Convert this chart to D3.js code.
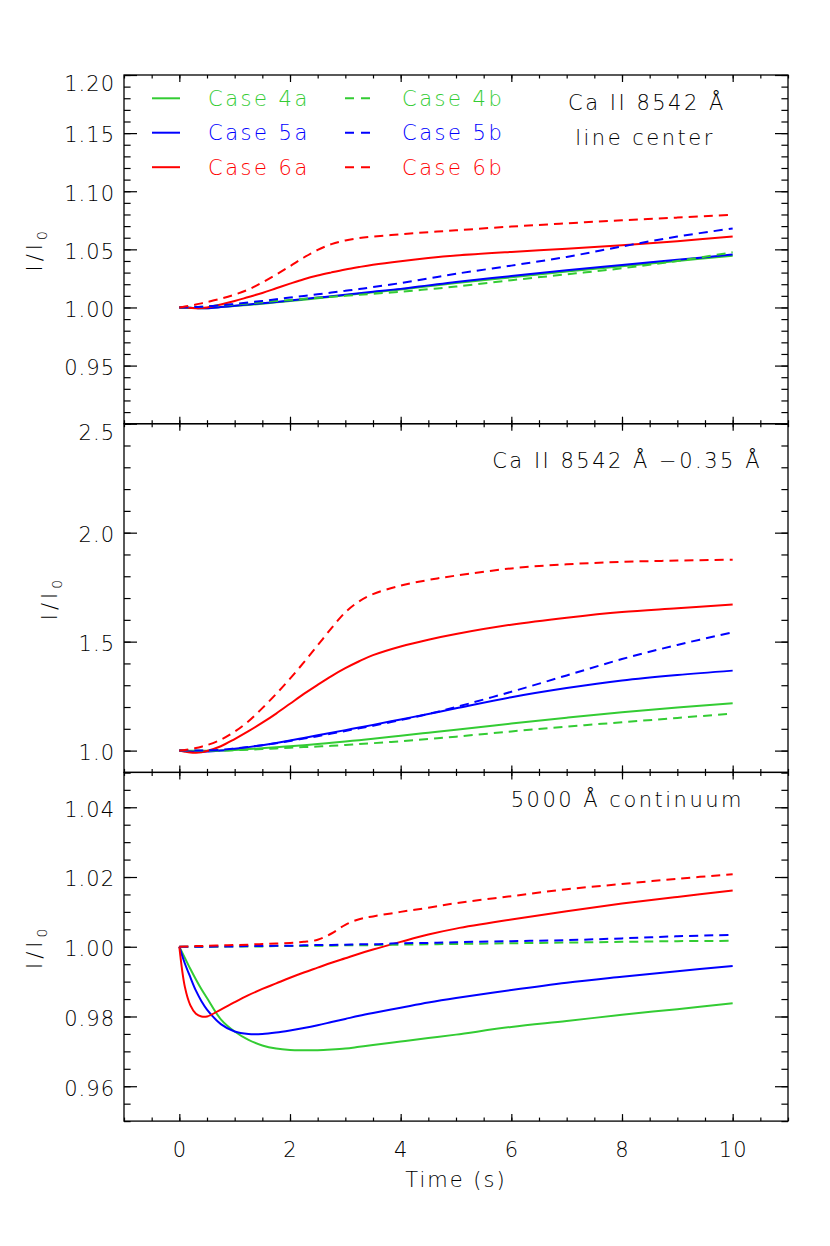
<!DOCTYPE html>
<html>
<head>
<meta charset="utf-8">
<script src="https://cdn.jsdelivr.net/npm/d3@7"></script>
<style>
  body { margin: 0; background: #fff; }
  svg text { font-family: "DejaVu Sans", sans-serif; font-weight: 300; fill: #000; }
</style>
</head>
<body>
<div class="canvas"></div>
<script>
// sample times (s), shared by every curve
const times = [0, 0.1, 0.2, 0.3, 0.4, 0.5, 0.75, 1, 1.25, 1.5, 1.75, 2, 2.25, 2.5, 2.75, 3, 3.25, 3.5, 4, 4.5, 5, 6, 7, 8, 9, 10];

// Ca II 8542 line center
const core4a = [1.0, 0.9999, 0.9997, 0.9995, 0.9994, 0.9994, 1.0004, 1.0012, 1.0022, 1.0032, 1.0044, 1.0055, 1.0067, 1.008, 1.0092, 1.0105, 1.0117, 1.013, 1.0155, 1.0182, 1.021, 1.026, 1.031, 1.0355, 1.040, 1.0445];
const core5a = [1.0, 0.9999, 0.9997, 0.9995, 0.9993, 0.9993, 1.0003, 1.0015, 1.0025, 1.0036, 1.0048, 1.006, 1.0072, 1.0085, 1.0097, 1.011, 1.0122, 1.0135, 1.016, 1.019, 1.022, 1.027, 1.032, 1.0365, 1.041, 1.0455];
const core6a = [1.0, 0.9998, 0.9995, 0.9993, 0.9995, 1.0, 1.0025, 1.0055, 1.009, 1.0125, 1.0165, 1.0205, 1.0243, 1.0275, 1.0302, 1.0327, 1.0348, 1.0367, 1.0398, 1.0425, 1.0447, 1.0478, 1.0505, 1.0535, 1.057, 1.061];
const core4b = [1.0, 1.0, 1.0002, 1.0004, 1.0006, 1.0009, 1.0017, 1.0025, 1.0035, 1.0045, 1.0055, 1.0065, 1.0074, 1.0083, 1.0092, 1.010, 1.0109, 1.0118, 1.0135, 1.0157, 1.018, 1.0235, 1.0285, 1.0337, 1.040, 1.0475];
const core5b = [1.0, 1.0, 1.0002, 1.0004, 1.0006, 1.0009, 1.0018, 1.003, 1.0043, 1.0056, 1.007, 1.0085, 1.0099, 1.0113, 1.0128, 1.0143, 1.0158, 1.0175, 1.021, 1.025, 1.029, 1.036, 1.0435, 1.0525, 1.061, 1.068];
const core6b = [1.0, 1.0008, 1.0016, 1.0025, 1.0035, 1.0046, 1.0075, 1.011, 1.0155, 1.0215, 1.0283, 1.0355, 1.043, 1.0495, 1.0545, 1.0577, 1.0597, 1.061, 1.063, 1.0648, 1.0664, 1.0696, 1.0724, 1.075, 1.0773, 1.0797];

// Ca II 8542 -0.35 A
const wing4a = [1.0, 0.9995, 0.999, 0.9988, 0.9988, 0.999, 1.0, 1.003, 1.007, 1.011, 1.015, 1.02, 1.025, 1.03, 1.036, 1.042, 1.048, 1.054, 1.068, 1.082, 1.096, 1.124, 1.151, 1.176, 1.198, 1.217];
const wing5a = [1.0, 0.998, 0.996, 0.995, 0.995, 0.996, 1.0, 1.008, 1.016, 1.025, 1.035, 1.046, 1.058, 1.07, 1.082, 1.094, 1.106, 1.118, 1.143, 1.168, 1.194, 1.245, 1.287, 1.322, 1.347, 1.367];
const wing6a = [1.0, 0.995, 0.991, 0.99, 0.992, 0.998, 1.02, 1.053, 1.089, 1.128, 1.17, 1.215, 1.26, 1.302, 1.342, 1.378, 1.41, 1.438, 1.478, 1.509, 1.535, 1.578, 1.61, 1.636, 1.653, 1.67];
const wing4b = [1.0, 1.0, 0.9995, 0.999, 0.999, 0.999, 1.0, 1.002, 1.004, 1.007, 1.01, 1.013, 1.016, 1.019, 1.022, 1.026, 1.03, 1.034, 1.043, 1.053, 1.064, 1.088, 1.11, 1.13, 1.15, 1.17];
const wing5b = [1.0, 1.0, 1.0, 1.0, 1.0, 1.001, 1.004, 1.01, 1.017, 1.025, 1.034, 1.044, 1.055, 1.066, 1.078, 1.09, 1.102, 1.114, 1.14, 1.168, 1.2, 1.27, 1.345, 1.42, 1.485, 1.543];
const wing6b = [1.0, 1.003, 1.007, 1.012, 1.018, 1.025, 1.05, 1.087, 1.135, 1.195, 1.26, 1.33, 1.405, 1.483, 1.562, 1.635, 1.685, 1.718, 1.757, 1.783, 1.803, 1.836, 1.855, 1.866, 1.872, 1.876];

// 5000 A continuum
const cont4a = [1.0, 0.9968, 0.9936, 0.9906, 0.9878, 0.9853, 0.9792, 0.9757, 0.9733, 0.9717, 0.9708, 0.9704, 0.9703, 0.9703, 0.9705, 0.9708, 0.9713, 0.9718, 0.9728, 0.9738, 0.9748, 0.977, 0.9787, 0.9805, 0.9821, 0.9838];
const cont5a = [1.0, 0.9952, 0.9912, 0.9874, 0.9844, 0.982, 0.9778, 0.9757, 0.975, 0.975, 0.9754, 0.976, 0.9767, 0.9775, 0.9784, 0.9793, 0.9802, 0.981, 0.9825, 0.984, 0.9853, 0.9876, 0.9897, 0.9914, 0.993, 0.9945];
const cont6a = [1.0, 0.9885, 0.9832, 0.9808, 0.98, 0.98, 0.982, 0.9841, 0.9861, 0.9879, 0.9895, 0.9911, 0.9926, 0.994, 0.9954, 0.9967, 0.998, 0.9992, 1.0014, 1.0035, 1.0052, 1.0078, 1.0102, 1.0124, 1.0143, 1.0161];
const cont4b = [1.0, 1.0, 1.0, 1.0, 1.0, 1.0, 1.0, 1.0001, 1.0001, 1.0001, 1.0002, 1.0002, 1.0002, 1.0003, 1.0003, 1.0004, 1.0004, 1.0005, 1.0006, 1.0007, 1.0008, 1.001, 1.0012, 1.0014, 1.0016, 1.0017];
const cont5b = [1.0, 1.0, 1.0, 1.0, 1.0, 1.0, 1.0001, 1.0001, 1.0002, 1.0002, 1.0003, 1.0003, 1.0004, 1.0005, 1.0005, 1.0006, 1.0007, 1.0007, 1.001, 1.0011, 1.0013, 1.0016, 1.0019, 1.0024, 1.003, 1.0034];
const cont6b = [1.0, 1.0001, 1.0001, 1.0002, 1.0002, 1.0003, 1.0004, 1.0005, 1.0006, 1.0008, 1.0009, 1.0011, 1.0014, 1.002, 1.0038, 1.0063, 1.0079, 1.0087, 1.01, 1.0112, 1.0125, 1.0145, 1.0165, 1.018, 1.0195, 1.0208];

// legend / case names
const caseNames = ["Case 4a", "Case 5a", "Case 6a", "Case 4b", "Case 5b", "Case 6b"];
const caseColors = ["#33cc33", "#0000ff", "#ff0000", "#33cc33", "#0000ff", "#ff0000"];
const caseDashed = [false, false, false, true, true, true];

// tick labels
const xTicks = [0, 2, 4, 6, 8, 10];
const coreTicks = [0.95, 1.00, 1.05, 1.10, 1.15, 1.20];
const wingTicks = [1.0, 1.5, 2.0, 2.5];
const contTicks = [0.96, 0.98, 1.00, 1.02, 1.04];

// margins and dimensions
const w = 830;
const h = 1246;
const plotLeft = 124;
const plotRight = 788;
const plotTop = 75;
const panelH = 348.7;

const panels = [
  { domain: [0.90, 1.20], major: coreTicks, minorStep: 0.01, fmt: ".2f", series: [core4a, core5a, core6a, core4b, core5b, core6b], labelX: 42 },
  { domain: [0.9, 2.5], major: wingTicks, minorStep: 0.1, fmt: ".1f", series: [wing4a, wing5a, wing6a, wing4b, wing5b, wing6b], labelX: 57 },
  { domain: [0.95, 1.05], major: contTicks, minorStep: 0.005, fmt: ".2f", series: [cont4a, cont5a, cont6a, cont4b, cont5b, cont6b], labelX: 42 }
];

const svg = d3.select(".canvas").append("svg").attr("width", w).attr("height", h);

const xScale = d3.scaleLinear().domain([-1, 11]).range([plotLeft, plotRight]);
const xMinor = d3.range(-1, 11.01, 0.5);

const noDomain = s => s.select(".domain").remove();

panels.forEach((p, i) => {
  const top = plotTop + i * panelH;
  const bottom = top + panelH;
  const yScale = d3.scaleLinear().domain(p.domain).range([bottom, top]);
  const yMinor = d3.range(p.domain[0], p.domain[1] + p.minorStep / 2, p.minorStep);
  const g = svg.append("g");

  // curves: solids first, dashed over them
  const line = d3.line()
    .x(d => xScale(d[0]))
    .y(d => yScale(d[1]))
    .curve(d3.curveCatmullRom.alpha(0.5));
  p.series.forEach((vals, k) => {
    g.append("path")
      .attr("d", line(d3.zip(times, vals)))
      .attr("fill", "none")
      .attr("stroke", caseColors[k])
      .attr("stroke-width", 2)
      .attr("stroke-dasharray", caseDashed[k] ? "9,6" : null);
  });

  // y ticks, inward on both sides
  g.append("g").attr("transform", `translate(${plotLeft},0)`)
    .call(d3.axisLeft(yScale).tickValues(yMinor).tickSize(-6.6).tickFormat("")).call(noDomain);
  g.append("g").attr("transform", `translate(${plotRight},0)`)
    .call(d3.axisRight(yScale).tickValues(yMinor).tickSize(-6.6).tickFormat("")).call(noDomain);
  g.append("g").attr("transform", `translate(${plotRight},0)`)
    .call(d3.axisRight(yScale).tickValues(p.major).tickSize(-13).tickFormat("")).call(noDomain);
  const yAxis = g.append("g").attr("transform", `translate(${plotLeft},0)`)
    .call(d3.axisLeft(yScale).tickValues(p.major).tickSize(-13).tickPadding(9).tickFormat(d3.format(p.fmt)))
    .call(noDomain);
  yAxis.selectAll("text")
    .attr("font-size", 21)
    .attr("letter-spacing", "1px")
    .attr("dy", d => (Math.abs(d - p.domain[1]) < 1e-9 ? "0.75em" : "0.42em"));

  // x ticks on top and bottom
  g.append("g").attr("transform", `translate(0,${bottom})`)
    .call(d3.axisBottom(xScale).tickValues(xMinor).tickSize(-3.5).tickFormat("")).call(noDomain);
  g.append("g").attr("transform", `translate(0,${top})`)
    .call(d3.axisTop(xScale).tickValues(xMinor).tickSize(-3.5).tickFormat("")).call(noDomain);
  g.append("g").attr("transform", `translate(0,${top})`)
    .call(d3.axisTop(xScale).tickValues(xTicks).tickSize(-7).tickFormat("")).call(noDomain);
  const xAxis = g.append("g").attr("transform", `translate(0,${bottom})`)
    .call(d3.axisBottom(xScale).tickValues(xTicks).tickSize(-7).tickPadding(21)
      .tickFormat(i === panels.length - 1 ? d3.format("d") : ""))
    .call(noDomain);
  xAxis.selectAll("text").attr("font-size", 21).attr("letter-spacing", "1px");

  g.selectAll(".tick line").attr("stroke", "#000").attr("stroke-width", 1.2);

  // frame
  g.append("rect")
    .attr("x", plotLeft).attr("y", top)
    .attr("width", plotRight - plotLeft).attr("height", panelH)
    .attr("fill", "none").attr("stroke", "#000").attr("stroke-width", 1.3);

  // y title I/I0
  const yt = g.append("text")
    .attr("transform", `translate(${p.labelX},${(top + bottom) / 2}) rotate(-90)`)
    .attr("text-anchor", "middle")
    .attr("font-size", 21)
    .attr("letter-spacing", "4px");
  yt.append("tspan").text("I/I");
  yt.append("tspan").attr("font-size", 14).attr("dy", 5).text("0");
});

// x title
svg.append("text")
  .attr("x", (plotLeft + plotRight) / 2).attr("y", 1187)
  .attr("text-anchor", "middle").attr("font-size", 21).attr("letter-spacing", "2px")
  .text("Time (s)");

// legend in the top panel
const legendRowY = [98.3, 132.7, 167.2];
caseNames.forEach((name, k) => {
  const col = k < 3 ? 0 : 1;
  const yy = legendRowY[k % 3];
  const x0 = col === 0 ? 152 : 345;
  const x1 = col === 0 ? 180 : 370;
  svg.append("line")
    .attr("x1", x0).attr("x2", x1).attr("y1", yy).attr("y2", yy)
    .attr("stroke", caseColors[k]).attr("stroke-width", 2)
    .attr("stroke-dasharray", caseDashed[k] ? "9,7" : null);
  svg.append("text")
    .attr("x", col === 0 ? 208 : 402).attr("y", yy + 7.5)
    .attr("font-size", 21).attr("letter-spacing", "2.5px")
    .style("fill", caseColors[k])
    .text(name);
});

// panel annotations
const notes = [
  { text: "Ca II 8542 Å", x: 647, y: 110, anchor: "middle" },
  { text: "line center", x: 645, y: 145, anchor: "middle" },
  { text: "Ca II 8542 Å −0.35 Å", x: 762, y: 468, anchor: "end" },
  { text: "5000 Å continuum", x: 744, y: 807, anchor: "end" }
];
notes.forEach(n => {
  svg.append("text")
    .attr("x", n.x).attr("y", n.y)
    .attr("text-anchor", n.anchor)
    .attr("font-size", 21).attr("letter-spacing", "2.5px")
    .text(n.text);
});
</script>
</body>
</html>
